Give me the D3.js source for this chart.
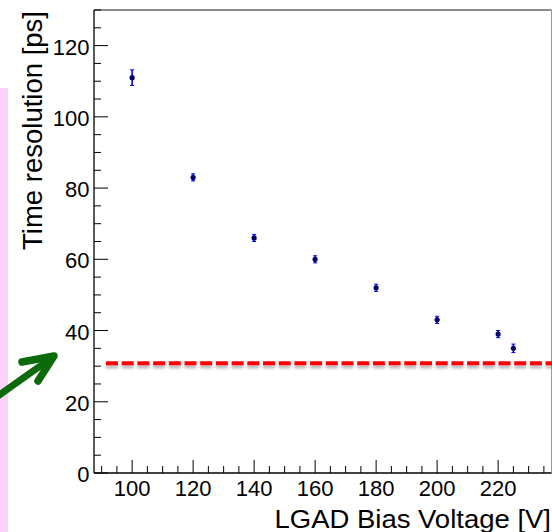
<!DOCTYPE html>
<html>
<head>
<meta charset="utf-8">
<script src="https://cdnjs.cloudflare.com/ajax/libs/d3/7.8.5/d3.min.js"></script>
<style>
  body { margin: 0; background: #fff; }
  svg { display: block; font-family: "Liberation Sans", Arial, sans-serif; }
</style>
</head>
<body>
<script>
// measured points
var voltages = [100, 120, 140, 160, 180, 200, 220, 225];
var resolution = [111, 83, 66, 60, 52, 43, 39, 35];
var resErr = [2.2, 1, 1, 1, 1, 1, 1, 1.2];
var targetLine = 30.8;

var xTicks = [100, 120, 140, 160, 180, 200, 220];
var yTicks = [0, 20, 40, 60, 80, 100, 120];

var w = 552;
var h = 532;
var pLeft = 94, pRight = 551.5, pTop = 10, pBottom = 473;

var svg = d3.select("body").append("svg")
  .attr("width", w)
  .attr("height", h);

var x = d3.scaleLinear().domain([87.5, 237.5]).range([pLeft, pRight]);
var y = d3.scaleLinear().domain([0, 130]).range([pBottom, pTop]);

// pink strip on the left
svg.append("rect")
  .attr("x", 0).attr("y", 88)
  .attr("width", 8).attr("height", h - 88)
  .attr("fill", "#fad2fa");

// frame
svg.append("line")
  .attr("x1", pLeft).attr("x2", pRight).attr("y1", pTop).attr("y2", pTop)
  .attr("stroke", "#666").attr("stroke-width", 1.5);
svg.append("line")
  .attr("x1", pRight).attr("x2", pRight).attr("y1", pTop).attr("y2", pBottom)
  .attr("stroke", "#999").attr("stroke-width", 1);

// minor ticks every 5
var xMinor = d3.range(90, 236, 5);
var yMinor = d3.range(0, 131, 5);

var gx = svg.append("g");
gx.selectAll("line.minor").data(xMinor).enter().append("line")
  .attr("x1", function(d) { return x(d); })
  .attr("x2", function(d) { return x(d); })
  .attr("y1", pBottom)
  .attr("y2", function(d) { return d % 20 == 0 ? pBottom - 13 : pBottom - 7; })
  .attr("stroke", "#000").attr("stroke-width", 1);
gx.append("line")
  .attr("x1", pLeft).attr("x2", pRight).attr("y1", pBottom).attr("y2", pBottom)
  .attr("stroke", "#000").attr("stroke-width", 1.3);
gx.selectAll("text").data(xTicks).enter().append("text")
  .attr("x", function(d) { return x(d); })
  .attr("y", 496)
  .attr("text-anchor", "middle")
  .attr("font-size", 22)
  .text(function(d) { return d; });

var gy = svg.append("g");
gy.selectAll("line").data(yMinor).enter().append("line")
  .attr("x1", pLeft)
  .attr("x2", function(d) { return d % 20 == 0 ? pLeft + 14 : pLeft + 7; })
  .attr("y1", function(d) { return y(d); })
  .attr("y2", function(d) { return y(d); })
  .attr("stroke", "#000").attr("stroke-width", 1);
gy.append("line")
  .attr("x1", pLeft).attr("x2", pLeft).attr("y1", pTop).attr("y2", pBottom)
  .attr("stroke", "#000").attr("stroke-width", 1.3);
gy.selectAll("text").data(yTicks).enter().append("text")
  .attr("x", 89.5)
  .attr("y", function(d) { return y(d) + 9; })
  .attr("text-anchor", "end")
  .attr("font-size", 22)
  .text(function(d) { return d; });

// axis titles
svg.append("text")
  .attr("transform", "translate(551,528) scale(1.1,1)")
  .attr("text-anchor", "end")
  .attr("font-size", 25)
  .text("LGAD Bias Voltage [V]");

svg.append("text")
  .attr("transform", "translate(42," + (pTop + 1) + ") rotate(-90)")
  .attr("text-anchor", "end")
  .attr("font-size", 27.5)
  .text("Time resolution [ps]");

// red dashed line with soft shadow
var defs = svg.append("defs");
var f = defs.append("filter").attr("id", "shadow")
  .attr("filterUnits", "userSpaceOnUse")
  .attr("x", 0).attr("y", 340).attr("width", w).attr("height", 50);
f.append("feGaussianBlur").attr("in", "SourceAlpha").attr("stdDeviation", 1.5).attr("result", "b");
f.append("feOffset").attr("in", "b").attr("dy", 3).attr("result", "o");
f.append("feComponentTransfer").attr("in", "o").attr("result", "s")
  .append("feFuncA").attr("type", "linear").attr("slope", 0.3);
var fm = f.append("feMerge");
fm.append("feMergeNode").attr("in", "s");
fm.append("feMergeNode").attr("in", "SourceGraphic");

svg.append("line")
  .attr("x1", 106).attr("x2", w)
  .attr("y1", y(targetLine)).attr("y2", y(targetLine))
  .attr("stroke", "#f00").attr("stroke-width", 4)
  .attr("stroke-dasharray", "12,3.7")
  .attr("filter", "url(#shadow)");

// data points with error bars
var pts = svg.selectAll(".pt").data(voltages).enter().append("g").attr("class", "pt");
pts.append("line")
  .attr("x1", function(d) { return x(d); })
  .attr("x2", function(d) { return x(d); })
  .attr("y1", function(d, i) { return y(resolution[i] - resErr[i]); })
  .attr("y2", function(d, i) { return y(resolution[i] + resErr[i]); })
  .attr("stroke", "#0000ff").attr("stroke-width", 1.6);
pts.selectAll(".cap").data(function(d, i) {
    return [[d, resolution[i] - resErr[i]], [d, resolution[i] + resErr[i]]];
  }).enter().append("line")
  .attr("x1", function(d) { return x(d[0]) - 2; })
  .attr("x2", function(d) { return x(d[0]) + 2; })
  .attr("y1", function(d) { return y(d[1]); })
  .attr("y2", function(d) { return y(d[1]); })
  .attr("stroke", "#0000ff").attr("stroke-width", 1);
pts.append("circle")
  .attr("cx", function(d) { return x(d); })
  .attr("cy", function(d, i) { return y(resolution[i]); })
  .attr("r", 2.6)
  .attr("fill", "#000066");

// green arrow
svg.append("line")
  .attr("x1", -2).attr("y1", 396)
  .attr("x2", 50).attr("y2", 359)
  .attr("stroke", "#0b6b0b").attr("stroke-width", 7)
  .attr("stroke-linecap", "round");
svg.append("path")
  .attr("d", "M22,362 L54,356 L38,381")
  .attr("fill", "none")
  .attr("stroke", "#0b6b0b").attr("stroke-width", 7.5)
  .attr("stroke-linecap", "round").attr("stroke-linejoin", "round");
</script>
</body>
</html>
